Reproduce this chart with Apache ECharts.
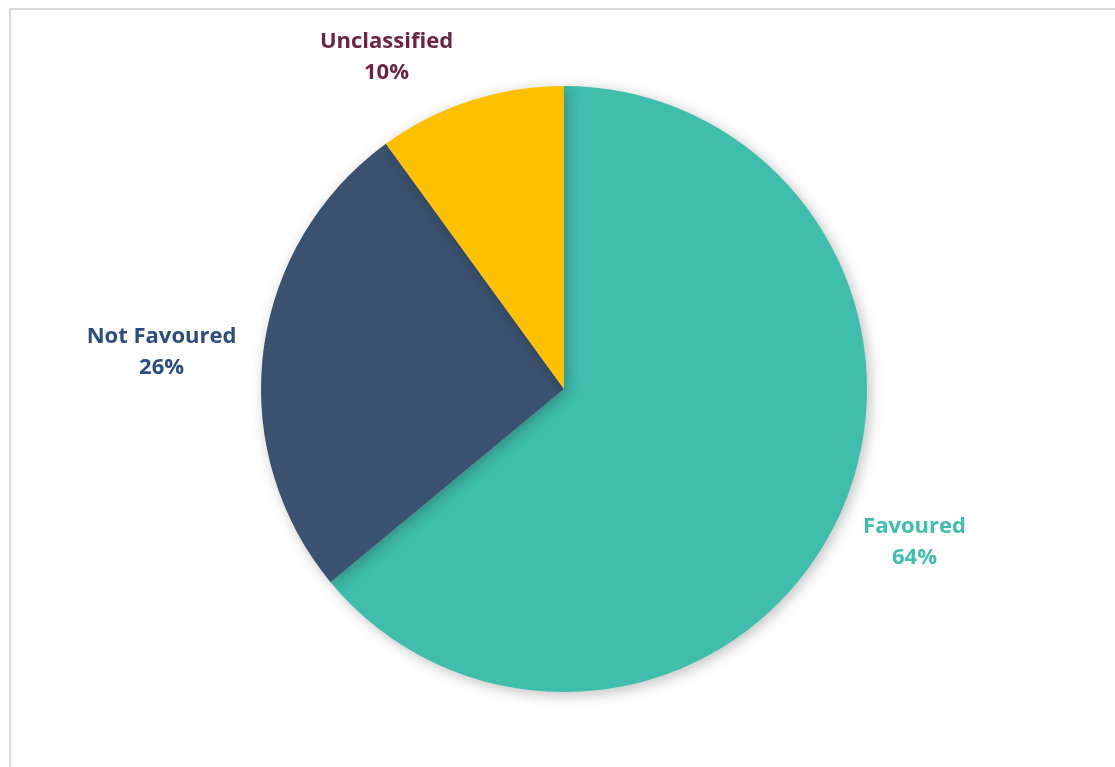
<!DOCTYPE html>
<html>
<head>
<meta charset="utf-8">
<script src="https://cdn.jsdelivr.net/npm/echarts@6/dist/echarts.min.js"></script>
<style>
    html, body { margin: 0; padding: 0; background: #fff; }
    #frame {
        position: absolute; left: 9px; top: 8px; width: 1120px; height: 780px;
        border: 2px solid #d9d9d9; box-sizing: border-box;
    }
    #chart { position: absolute; left: 0; top: 0; width: 1115px; height: 767px; }
</style>
</head>
<body>
<div id="frame"></div>
<div id="chart"></div>
<script>
var categories = ['Favoured', 'Not Favoured', 'Unclassified'];
var shares = [64, 26, 10];

var sliceColors = ['#3FBDAD', '#3A526F', '#FFC000'];
var labelColors = ['#3FBDAD', '#2B4C7E', '#6B2543'];
var labelGap = [70, 96, 74];
// nudges so the labels sit where the original (best-fit) placed them
var labelNudge = [[13, -6], [-7, 13], [-61, 25]];

var chart = echarts.init(document.getElementById('chart'));

var pieData = categories.map(function (name, i) {
    return {
        name: name,
        value: shares[i],
        itemStyle: { color: sliceColors[i] },
        label: { color: labelColors[i] },
        labelLine: { length: labelGap[i], length2: 0 }
    };
});

chart.setOption({
    animation: false,
    series: [{
        type: 'pie',
        center: [564, 389],
        radius: [0, 303],
        startAngle: 90,
        clockwise: true,
        itemStyle: {
            borderWidth: 0,
            shadowBlur: 14,
            shadowColor: 'rgba(0,0,0,0.25)',
            shadowOffsetX: 3,
            shadowOffsetY: 3
        },
        label: {
            show: true,
            position: 'outside',
            formatter: '{b}\n{d}%',
            fontFamily: 'Open Sans',
            fontWeight: 'bold',
            fontSize: 22,
            lineHeight: 31,
            align: 'center',
            distanceToLabelLine: 0
        },
        labelLine: { show: false },
        labelLayout: function (params) {
            var n = labelNudge[params.dataIndex];
            return { align: 'center', verticalAlign: 'middle', dx: n[0], dy: n[1] };
        },
        emphasis: { disabled: true },
        data: pieData
    }]
});
</script>
</body>
</html>
